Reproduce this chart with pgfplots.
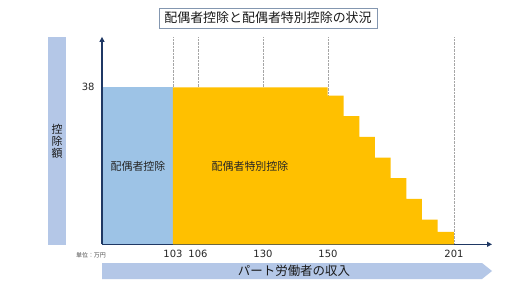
\documentclass[border=0pt]{standalone}
\usepackage{pgfplots}
\pgfplotsset{compat=1.18}
\usetikzlibrary{arrows.meta}
\usepackage{fontspec}
\setmainfont{Noto Sans CJK JP}
\newfontfamily\numfont{DejaVu Sans}
\definecolor{barblue}{HTML}{9DC3E6}
\definecolor{baryel}{HTML}{FFC000}
\definecolor{navy}{HTML}{1F3864}
\definecolor{lblue}{HTML}{B4C7E7}
\definecolor{boxedge}{HTML}{8497B0}
\begin{document}
\begin{tikzpicture}
\useasboundingbox[fill=white] (-102bp,-50.7bp) rectangle (410bp,244.3bp);
\begin{axis}[
  at={(0,0)}, anchor=south west,
  scale only axis,
  x=1bp, y=4.1316bp,
  xmin=102, xmax=492, ymin=0, ymax=50.2,
  axis lines=left,
  axis line style={navy, line width=1.5pt, -{Triangle[width=5pt,length=5pt]}},
  xtick={173,198,263,328,454},
  xticklabels={103,106,130,150,201},
  ytick={38},
  major tick length=0pt,
  xmajorgrids,
  grid style={gray!70, densely dotted, line width=0.5pt},
  /pgf/number format/assume math mode=true,
  tick label style={font=\numfont\fontsize{10}{12}\selectfont, text=black!85},
  xticklabel style={yshift=-2pt},
  yticklabel style={xshift=-4pt},
  clip=false,
]
\addplot[fill=barblue, draw=none] coordinates {(102.8,0) (102.8,38) (173,38) (173,0)} -- cycle;
\addplot[fill=baryel, draw=none] coordinates {
  (173,0) (173,38) (327.7,38) (327.7,36) (343.7,36) (343.7,31) (359.3,31) (359.3,26)
  (375,26) (375,21) (390.7,21) (390.7,16) (406.3,16) (406.3,11) (422,11) (422,6)
  (437.7,6) (437.7,3) (454,3) (454,0)} -- cycle;
\node[font=\fontsize{11}{13}\selectfont, text=black!85] at (axis cs:138,18.8) {配偶者控除};
\node[font=\fontsize{11}{13}\selectfont, text=black!85] at (axis cs:250,18.8) {配偶者特別控除};
\end{axis}
% title box
\draw[boxedge, line width=0.8pt, fill=white] (57bp,216.3bp) rectangle (275bp,236.3bp);
\node[font=\fontsize{13}{15}\selectfont, text=black!90] at (166bp,226.3bp) {配偶者控除と配偶者特別控除の状況};
% y label box
\fill[lblue] (-54bp,-0.7bp) rectangle (-36bp,207.3bp);
\node[font=\fontsize{11}{12}\selectfont, text=black!90, align=center, inner sep=0pt] at (-45bp,103bp) {控\\[0pt]除\\[0pt]額};
% unit
\node[font=\fontsize{6}{7}\selectfont, text=black!70] at (-11bp,-10.7bp) {単位：万円};
% bottom banner
\fill[lblue] (0bp,-18.7bp) -- (380bp,-18.7bp) -- (390bp,-26.7bp) -- (380bp,-34.7bp) -- (0bp,-34.7bp) -- cycle;
\node[font=\fontsize{12.5}{14}\selectfont, text=black!90] at (192bp,-26.7bp) {パート労働者の収入};
\end{tikzpicture}
\end{document}
